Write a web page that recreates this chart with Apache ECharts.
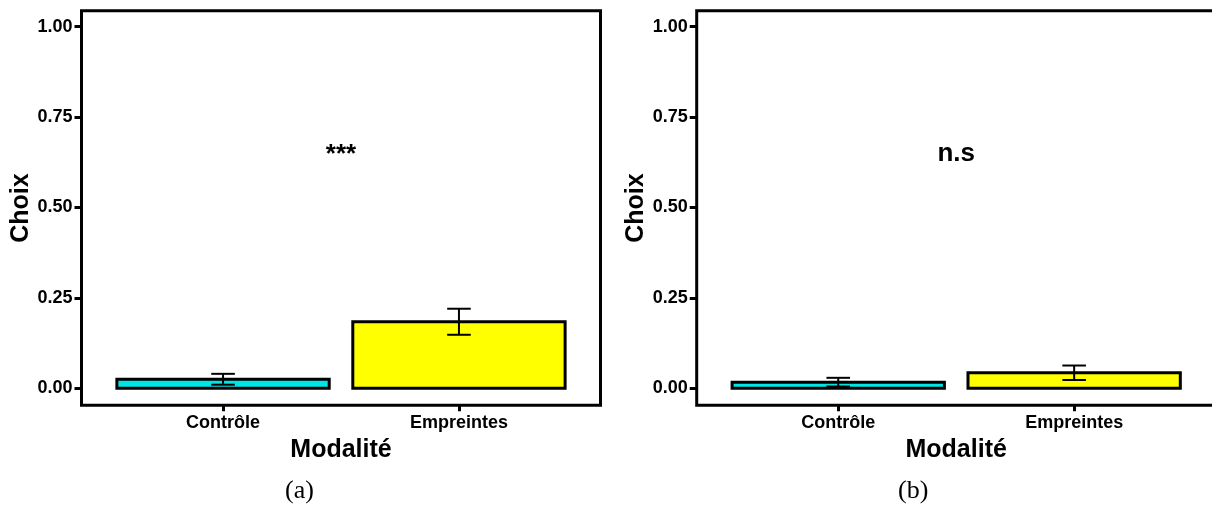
<!DOCTYPE html>
<html>
<head>
<meta charset="utf-8">
<script src="https://cdn.jsdelivr.net/npm/echarts@6/dist/echarts.min.js"></script>
<style>
  html, body { margin: 0; padding: 0; background: #fff; }
  #chart { width: 1212px; height: 506px; }
</style>
</head>
<body>
<div id="chart"></div>
<script>
// données
const categories = ['Contrôle', 'Empreintes'];
const barColors = ['#00e6e6', '#ffff00'];
const meansA = [0.025, 0.184];
const errA = [0.015, 0.036];
const meansB = [0.017, 0.043];
const errB = [0.012, 0.020];
const yTicks = [0, 0.25, 0.5, 0.75, 1];
const sigLabels = ['***', 'n.s'];
const sigY = [0.645, 0.648];
const panelLabels = ['(a)', '(b)'];

const FONT = 'Liberation Sans, Arial, sans-serif';
const BAR_HALF = 0.45;
const WHISKER = 0.05;

const chart = echarts.init(document.getElementById('chart'), null, { renderer: 'canvas' });

// barres avec contour noir
function renderBar(params, api) {
  const x = api.value(0);
  const v = api.value(1);
  const p0 = api.coord([x - BAR_HALF, v]);
  const p1 = api.coord([x + BAR_HALF, 0]);
  return {
    type: 'rect',
    shape: { x: p0[0], y: p0[1], width: p1[0] - p0[0], height: p1[1] - p0[1] },
    style: { fill: barColors[params.dataIndex], stroke: '#000', lineWidth: 3 }
  };
}

// barres d'erreur
function renderErr(params, api) {
  const x = api.value(0);
  const m = api.value(1);
  const e = api.value(2);
  const top = api.coord([x, m + e]);
  const bot = api.coord([x, m - e]);
  const l = api.coord([x - WHISKER, m])[0];
  const r = api.coord([x + WHISKER, m])[0];
  const st = { stroke: '#000', lineWidth: 2 };
  return {
    type: 'group',
    children: [
      { type: 'line', shape: { x1: top[0], y1: top[1], x2: bot[0], y2: bot[1] }, style: st },
      { type: 'line', shape: { x1: l, y1: top[1], x2: r, y2: top[1] }, style: st },
      { type: 'line', shape: { x1: l, y1: bot[1], x2: r, y2: bot[1] }, style: st }
    ]
  };
}

// annotation de significativité
function sigRenderer(text) {
  return function (params, api) {
    const p = api.coord([api.value(0), api.value(1)]);
    return {
      type: 'text',
      style: {
        x: p[0], y: p[1], text: text,
        font: 'bold 26px ' + FONT, fill: '#000', align: 'center', verticalAlign: 'middle'
      }
    };
  };
}

function makeGrid(left) {
  return {
    left: left, top: 10.7, width: 519, height: 394.6,
    outerBoundsMode: 'none', containLabel: false,
    show: true, borderColor: '#000', borderWidth: 3, backgroundColor: 'transparent'
  };
}

function makeX(idx) {
  return {
    type: 'value', gridIndex: idx, min: 0.4, max: 2.6,
    axisLine: { show: false, onZero: false },
    splitLine: { show: false },
    axisTick: { show: true, customValues: [1, 2], length: 6, lineStyle: { color: '#000', width: 3 } },
    axisLabel: {
      customValues: [1, 2], margin: 9, color: '#000',
      fontFamily: FONT, fontWeight: 'bold', fontSize: 18,
      formatter: v => categories[Math.round(v) - 1]
    },
    name: 'Modalité', nameLocation: 'middle', nameGap: 28,
    nameTextStyle: { fontFamily: FONT, fontWeight: 'bold', fontSize: 25, color: '#000' }
  };
}

function makeY(idx) {
  return {
    type: 'value', gridIndex: idx, min: -0.047, max: 1.044,
    axisLine: { show: false },
    splitLine: { show: false },
    axisTick: { show: true, customValues: yTicks, length: 7, lineStyle: { color: '#000', width: 3 } },
    axisLabel: {
      customValues: yTicks, margin: 9, color: '#000',
      fontFamily: FONT, fontWeight: 'bold', fontSize: 18,
      formatter: v => v.toFixed(2)
    },
    name: 'Choix', nameLocation: 'middle', nameGap: 48,
    nameTextStyle: { fontFamily: FONT, fontWeight: 'bold', fontSize: 25, color: '#000' }
  };
}

function panelSeries(idx, means, errs, sigText, sigYVal) {
  return [
    {
      type: 'custom', xAxisIndex: idx, yAxisIndex: idx, renderItem: renderBar,
      data: means.map((m, i) => [i + 1, m])
    },
    {
      type: 'custom', xAxisIndex: idx, yAxisIndex: idx, renderItem: renderErr, z: 3,
      data: means.map((m, i) => [i + 1, m, errs[i]])
    },
    {
      type: 'custom', xAxisIndex: idx, yAxisIndex: idx, renderItem: sigRenderer(sigText),
      data: [[1.5, sigYVal]]
    }
  ];
}

chart.setOption({
  backgroundColor: '#fff',
  animation: false,
  grid: [makeGrid(81.5), makeGrid(696.7)],
  xAxis: [makeX(0), makeX(1)],
  yAxis: [makeY(0), makeY(1)],
  series: [].concat(
    panelSeries(0, meansA, errA, sigLabels[0], sigY[0]),
    panelSeries(1, meansB, errB, sigLabels[1], sigY[1])
  ),
  graphic: [
    { type: 'text', left: 300 - 15, top: 478, style: { text: panelLabels[0], font: '26px Liberation Serif, serif', fill: '#000' } },
    { type: 'text', left: 913 - 15, top: 478, style: { text: panelLabels[1], font: '26px Liberation Serif, serif', fill: '#000' } }
  ]
});
</script>
</body>
</html>
